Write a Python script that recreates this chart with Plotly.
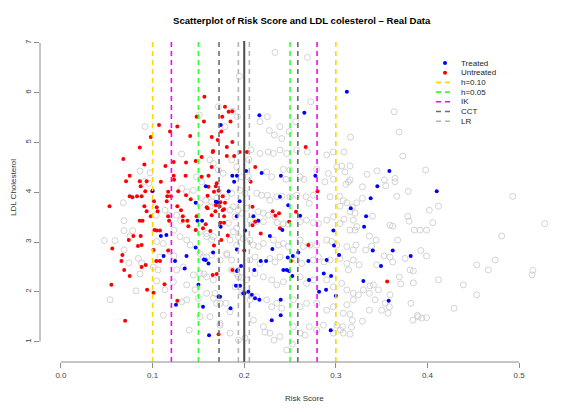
import plotly.graph_objects as go

# cutoff and bandwidth lines (risk score)
cutoff = 0.20
h010 = [0.10, 0.30]
h005 = [0.15, 0.25]
ik = [0.1205, 0.2795]
cct = [0.1725, 0.2585]
lr = [0.1936, 0.2056]

# full sample (grey open circles): (risk score, LDL)
all_pts = [
    (0.369, 5.21), (0.316, 5.11), (0.309, 4.81), (0.373, 4.73), (0.3064, 4.53), (0.3155, 4.53), (0.310, 4.41),
    (0.334, 4.36), (0.345, 4.43), (0.3646, 4.28), (0.3646, 4.21), (0.353, 4.25), (0.398, 4.45), (0.3137, 4.21),
    (0.311, 4.16), (0.329, 4.11), (0.3545, 4.13), (0.379, 4.02), (0.3665, 3.92), (0.493, 3.92), (0.304, 3.92),
    (0.308, 3.83), (0.312, 3.79), (0.3046, 3.72), (0.329, 3.88), (0.3228, 3.79), (0.318, 3.70), (0.3155, 3.61),
    (0.321, 3.58), (0.309, 3.46), (0.340, 3.52), (0.3785, 3.52), (0.380, 3.42), (0.402, 3.64), (0.412, 3.72),
    (0.4058, 3.39), (0.3857, 3.24), (0.392, 3.24), (0.399, 3.24), (0.359, 3.34), (0.362, 3.32), (0.3155, 3.24),
    (0.321, 3.24), (0.3366, 3.12), (0.344, 3.04), (0.339, 2.92), (0.322, 2.94), (0.3326, 2.84), (0.3676, 3.04),
    (0.3927, 2.83), (0.399, 2.72), (0.359, 2.70), (0.362, 2.60), (0.3526, 2.72), (0.3755, 2.67), (0.4538, 2.54),
    (0.4665, 2.44), (0.4738, 2.64), (0.3446, 2.54), (0.3253, 2.54), (0.3137, 2.44), (0.381, 2.44), (0.3846, 2.42),
    (0.3693, 2.30), (0.412, 2.24), (0.4392, 2.14), (0.4538, 1.94), (0.341, 2.14), (0.3373, 2.12), (0.3464, 2.04),
    (0.3708, 2.16), (0.3846, 2.18), (0.330, 2.04), (0.3366, 1.97), (0.3246, 1.94), (0.319, 1.84), (0.312, 1.74),
    (0.359, 1.94), (0.3537, 1.77), (0.3584, 1.70), (0.3428, 1.84), (0.382, 1.77), (0.429, 1.67), (0.3366, 1.63),
    (0.350, 1.63), (0.357, 1.57), (0.389, 1.53), (0.390, 1.50), (0.3938, 1.47), (0.399, 1.48), (0.384, 1.43),
    (0.3155, 1.55), (0.318, 1.43), (0.329, 1.41), (0.3075, 1.30), (0.317, 1.29),
    (0.528, 3.37), (0.481, 3.12), (0.515, 2.43), (0.5142, 2.34),
    (0.2336, 6.81), (0.269, 6.71), (0.1947, 6.33), (0.2726, 5.82), (0.3635, 5.62), (0.1874, 5.63), (0.1925, 5.52),
    (0.2252, 5.52), (0.2172, 5.42), (0.2562, 5.42), (0.239, 5.32), (0.2274, 5.24), (0.249, 5.22), (0.2329, 5.15),
    (0.241, 5.08), (0.0917, 5.32), (0.151, 5.55), (0.1717, 5.72), (0.179, 5.32),
    (0.301, 4.51), (0.239, 4.85), (0.2464, 4.78), (0.2573, 4.85), (0.2263, 4.81), (0.2318, 4.78), (0.2074, 4.85),
    (0.205, 4.66), (0.2172, 4.78), (0.269, 4.81), (0.290, 4.75), (0.2973, 4.81), (0.279, 4.46), (0.2918, 4.38),
    (0.2427, 4.46), (0.25, 4.45), (0.2245, 4.41), (0.230, 4.31), (0.197, 4.31), (0.2045, 4.31), (0.2456, 4.26),
    (0.261, 4.31), (0.2653, 4.26), (0.288, 4.21), (0.2973, 4.26), (0.3155, 4.25), (0.2937, 3.91), (0.2675, 3.91),
    (0.2754, 3.94), (0.271, 3.78), (0.25, 3.91), (0.2573, 3.94), (0.2355, 3.91), (0.241, 3.92), (0.2252, 3.94),
    (0.228, 3.84), (0.2136, 3.98), (0.219, 3.94), (0.1954, 4.04), (0.2009, 3.98), (0.1517, 3.78), (0.158, 3.84),
    (0.1627, 3.71), (0.188, 3.71), (0.1936, 3.64), (0.2027, 3.68), (0.2154, 3.61), (0.2209, 3.58), (0.2263, 3.54),
    (0.2336, 3.51), (0.2063, 3.44), (0.2136, 3.41), (0.2209, 3.41), (0.236, 3.39), (0.2427, 3.37), (0.2481, 3.36),
    (0.261, 3.41), (0.268, 3.44), (0.2754, 3.39), (0.281, 3.37), (0.290, 3.44), (0.2973, 3.51), (0.3046, 3.37),
    (0.319, 3.44), (0.3228, 3.31), (0.1517, 3.21), (0.159, 3.17), (0.1663, 3.11), (0.188, 3.21), (0.1936, 3.11),
    (0.199, 3.07), (0.2063, 3.04), (0.2100, 2.94), (0.2154, 2.91), (0.2209, 2.97), (0.2318, 3.04), (0.2372, 2.94),
    (0.2427, 2.97), (0.2481, 2.91), (0.261, 3.04), (0.2645, 2.91), (0.2718, 2.94), (0.279, 2.94), (0.290, 3.04),
    (0.2955, 3.01), (0.301, 2.94), (0.312, 2.91), (0.319, 2.84), (0.1517, 2.77), (0.159, 2.70), (0.1645, 2.74),
    (0.1736, 2.64), (0.181, 2.74), (0.1863, 2.64), (0.2063, 2.64), (0.2118, 2.70), (0.2172, 2.57), (0.2282, 2.67),
    (0.2336, 2.60), (0.239, 2.70), (0.2573, 2.64), (0.2627, 2.57), (0.2754, 2.64), (0.281, 2.70), (0.2871, 2.60),
    (0.2937, 2.64), (0.3046, 2.67), (0.312, 2.57), (0.319, 2.64), (0.1517, 2.37), (0.159, 2.30), (0.1663, 2.24),
    (0.1918, 2.37), (0.1973, 2.29), (0.2027, 2.24), (0.2118, 2.37), (0.2209, 2.30), (0.230, 2.24), (0.2355, 2.14),
    (0.2427, 2.20), (0.261, 2.30), (0.268, 2.17), (0.2754, 2.24), (0.290, 2.24), (0.2973, 2.10), (0.3064, 2.17),
    (0.312, 2.04), (0.319, 1.97), (0.159, 1.97), (0.1663, 1.87), (0.1736, 1.77), (0.199, 1.97), (0.2063, 1.84),
    (0.2136, 1.90), (0.2245, 1.84), (0.230, 1.70), (0.2355, 1.77), (0.241, 1.67), (0.2536, 1.84), (0.261, 1.70),
    (0.268, 1.77), (0.279, 1.77), (0.290, 1.63), (0.2973, 1.70), (0.308, 1.57), (0.1627, 1.50), (0.1736, 1.37),
    (0.1845, 1.17), (0.210, 1.43), (0.2209, 1.30), (0.228, 1.17), (0.2536, 1.30), (0.261, 1.17), (0.279, 1.23),
    (0.2973, 1.17), (0.1936, 1.03), (0.239, 1.10),
    (0.1317, 4.77), (0.0862, 4.43), (0.0972, 4.39), (0.091, 4.22), (0.096, 4.18), (0.068, 3.79), (0.0688, 3.43),
    (0.0688, 3.23), (0.0473, 3.03), (0.059, 3.03), (0.0753, 3.12), (0.0783, 3.23), (0.069, 2.84), (0.0844, 2.67),
    (0.0742, 2.58), (0.088, 2.58), (0.0862, 2.36), (0.1045, 2.22), (0.0535, 1.84), (0.0819, 2.02), (0.1117, 1.53),
    (0.1135, 3.64), (0.118, 3.54), (0.1037, 3.54), (0.1263, 3.54), (0.1307, 3.43), (0.1234, 3.24), (0.130, 3.11),
    (0.1045, 3.01), (0.1117, 2.97), (0.1372, 3.04), (0.141, 2.94), (0.119, 2.81), (0.1234, 2.72), (0.108, 2.70),
    (0.1008, 2.50), (0.106, 2.44), (0.1263, 2.44), (0.1335, 2.50), (0.1554, 2.70), (0.159, 3.11), (0.1645, 3.04),
    (0.1444, 2.34), (0.156, 2.36), (0.1226, 2.20), (0.1135, 2.04), (0.1463, 2.04), (0.1372, 2.14), (0.1372, 1.84),
    (0.1317, 1.80), (0.150, 1.87), (0.1517, 1.50), (0.168, 1.97), (0.170, 1.77), (0.180, 1.77), (0.1845, 1.60),
    (0.1663, 4.58), (0.1627, 4.65), (0.1717, 4.45), (0.177, 4.38), (0.1863, 4.65), (0.1918, 4.51), (0.148, 4.31),
    (0.1535, 4.21), (0.1372, 4.01), (0.1444, 4.04), (0.1317, 4.08), (0.1717, 4.01), (0.181, 3.91), (0.1863, 3.98),
    (0.1645, 3.81), (0.170, 3.88), (0.1845, 3.64), (0.190, 3.51), (0.1973, 3.58), (0.1827, 3.38), (0.1918, 3.28),
    (0.1845, 3.04), (0.1918, 2.94), (0.181, 2.77), (0.1863, 2.44), (0.1936, 2.30), (0.190, 2.10), (0.1973, 2.00),
    (0.140, 1.23), (0.1736, 1.33), (0.2009, 1.07), (0.2227, 1.19), (0.2325, 1.03), (0.2464, 0.83), (0.2525, 0.95),
    (0.2664, 1.13), (0.271, 1.30), (0.2864, 1.33), (0.301, 1.33), (0.308, 1.17), (0.3155, 1.15), (0.305, 1.23),
]

# untreated subsample (red)
untreated_pts = [
    (0.098, 5.11), (0.119, 5.22), (0.141, 5.13), (0.1645, 5.11), (0.175, 5.22), (0.187, 5.01), (0.086, 4.90),
    (0.068, 4.67), (0.1535, 4.71), (0.166, 4.83), (0.181, 4.73), (0.189, 4.73), (0.123, 4.61), (0.1365, 4.60),
    (0.147, 4.63), (0.091, 4.56), (0.114, 4.53), (0.075, 4.33), (0.071, 4.22), (0.086, 4.22), (0.0935, 4.22),
    (0.123, 4.33), (0.136, 4.33), (0.161, 4.33), (0.109, 4.21), (0.1234, 4.25), (0.170, 4.18), (0.161, 4.11),
    (0.169, 4.12), (0.087, 4.12), (0.092, 4.02), (0.0997, 4.02), (0.117, 4.01), (0.128, 4.02), (0.075, 3.92),
    (0.078, 3.90), (0.083, 3.92), (0.088, 3.92), (0.116, 3.92), (0.120, 3.92), (0.1365, 3.94), (0.1416, 3.86),
    (0.053, 3.72), (0.1015, 3.82), (0.091, 3.72), (0.1045, 3.70), (0.1154, 3.82), (0.127, 3.72), (0.159, 3.70),
    (0.173, 3.72), (0.0935, 3.62), (0.1055, 3.62), (0.131, 3.64), (0.1685, 3.62), (0.178, 3.66), (0.089, 3.43),
    (0.086, 3.43), (0.098, 3.52), (0.117, 3.52), (0.118, 3.43), (0.133, 3.52), (0.133, 3.43), (0.138, 3.43),
    (0.148, 3.52), (0.1645, 3.54), (0.178, 3.52), (0.102, 3.24), (0.1045, 3.23), (0.108, 3.23), (0.079, 3.12),
    (0.087, 3.12), (0.074, 3.04), (0.084, 2.92), (0.147, 3.24), (0.139, 3.32), (0.158, 3.36), (0.163, 3.22),
    (0.175, 3.04), (0.056, 2.87), (0.088, 2.94), (0.101, 2.84), (0.104, 2.62), (0.108, 2.62), (0.117, 2.83),
    (0.067, 2.74), (0.066, 2.62), (0.088, 2.50), (0.0925, 2.54), (0.069, 2.44), (0.075, 2.32), (0.055, 2.14),
    (0.094, 2.04), (0.101, 1.98), (0.113, 2.15), (0.1656, 2.34), (0.070, 1.42), (0.1565, 5.92), (0.179, 5.72),
    (0.183, 5.62), (0.148, 5.52), (0.156, 5.42), (0.176, 5.52), (0.185, 5.42), (0.107, 5.35), (0.127, 5.32),
    (0.127, 1.82), (0.170, 2.36), (0.172, 1.15), (0.187, 5.63), (0.171, 5.05), (0.181, 4.91), (0.1656, 4.81),
    (0.195, 4.81), (0.203, 4.81), (0.212, 4.51), (0.1535, 4.31), (0.1645, 4.51), (0.207, 4.21), (0.160, 3.93),
    (0.167, 4.01), (0.172, 4.03), (0.1765, 3.92), (0.160, 3.68), (0.169, 3.74), (0.174, 3.80), (0.1765, 3.64),
    (0.179, 3.79), (0.209, 3.71), (0.155, 3.28), (0.174, 3.39), (0.178, 3.39), (0.209, 3.34), (0.212, 3.41),
    (0.218, 3.17), (0.231, 3.62), (0.234, 3.53), (0.238, 3.58), (0.239, 3.28), (0.249, 3.41), (0.2565, 3.61),
    (0.267, 4.91), (0.280, 4.02), (0.270, 2.94), (0.251, 2.62), (0.200, 2.83), (0.167, 2.93), (0.182, 3.13),
    (0.187, 2.44), (0.356, 2.21),
]

# treated subsample (blue)
treated_pts = [
    (0.100, 4.03), (0.147, 3.79), (0.158, 4.12), (0.183, 4.02), (0.187, 4.33), (0.192, 4.33), (0.189, 4.21),
    (0.195, 3.82), (0.149, 3.43), (0.154, 3.43), (0.169, 3.81), (0.109, 3.12), (0.115, 3.14), (0.112, 2.72),
    (0.1245, 2.62), (0.137, 2.72), (0.135, 2.47), (0.147, 2.89), (0.156, 2.65), (0.161, 2.57), (0.166, 2.79),
    (0.192, 2.85), (0.192, 2.42), (0.1965, 2.52), (0.172, 1.90), (0.155, 1.70), (0.185, 1.67), (0.1255, 1.74),
    (0.191, 2.12), (0.1954, 2.12), (0.199, 1.97), (0.2165, 5.55), (0.2656, 5.60), (0.312, 6.02), (0.1743, 5.35),
    (0.1707, 3.80), (0.202, 4.43), (0.219, 4.39), (0.240, 4.33), (0.239, 3.91), (0.248, 3.74), (0.2776, 4.33),
    (0.261, 3.53), (0.1918, 3.52), (0.1743, 3.31), (0.2009, 3.23), (0.2154, 3.43), (0.210, 3.52), (0.228, 3.12),
    (0.2416, 3.24), (0.2973, 3.23), (0.298, 2.93), (0.3035, 2.74), (0.2307, 2.86), (0.2475, 2.69), (0.253, 2.72),
    (0.259, 2.79), (0.270, 2.62), (0.290, 2.64), (0.158, 2.64), (0.193, 2.44), (0.211, 2.44), (0.218, 2.62),
    (0.2238, 2.62), (0.2427, 2.44), (0.2464, 2.44), (0.249, 2.42), (0.2525, 2.32), (0.2707, 2.24), (0.2868, 2.37),
    (0.2948, 2.32), (0.1736, 1.90), (0.2001, 1.97), (0.2045, 2.00), (0.2082, 1.94), (0.2118, 1.87), (0.2165, 1.84),
    (0.230, 1.43), (0.2398, 1.53), (0.2398, 1.84), (0.2817, 2.00), (0.2893, 2.04), (0.300, 1.92), (0.2944, 1.23),
    (0.1616, 1.13), (0.3584, 4.43), (0.4101, 4.02), (0.3453, 4.12), (0.338, 3.88), (0.3163, 3.68), (0.333, 3.52),
    (0.3308, 3.31), (0.3403, 2.83), (0.3621, 2.83), (0.3817, 2.72), (0.3493, 2.52), (0.330, 2.22), (0.3577, 1.82),
    (0.150, 2.14),
]

FONT = "Liberation Sans, Arial, sans-serif"
OFF = 8  # page body margin in the browser
W, H = 585 - OFF, 413 - OFF
L, R, T, B = 40 - OFF, 21, 41 - OFF, 51


def px_x(p):
    return (p - OFF - L) / (W - L - R)


def px_y(p):
    return (H - B - (p - OFF)) / (H - T - B)


fig = go.Figure()
ax, ay = zip(*all_pts)
fig.add_trace(go.Scatter(x=ax, y=ay, mode="markers", showlegend=False,
                         marker=dict(symbol="circle-open", size=6, color="#c8c8c8", line=dict(width=0.8))))
ux, uy = zip(*untreated_pts)
fig.add_trace(go.Scatter(x=ux, y=uy, mode="markers", showlegend=False,
                         marker=dict(symbol="circle", size=4, color="#ff0000")))
tx, ty = zip(*treated_pts)
fig.add_trace(go.Scatter(x=tx, y=ty, mode="markers", showlegend=False,
                         marker=dict(symbol="circle", size=4, color="#0000ff")))

DASH = "5px,4px"
lines = [(h010, "#ffd700"), (h005, "#33ff33"), (ik, "#ff00ff"), (cct, "#6e6e6e"), (lr, "#b4b4b4")]
shapes = []
for vals, col in lines:
    for v in vals:
        shapes.append(dict(type="line", xref="x", yref="paper", x0=v, x1=v, y0=0, y1=1,
                           line=dict(color=col, width=1.6, dash=DASH)))
shapes.append(dict(type="line", xref="x", yref="paper", x0=cutoff, x1=cutoff, y0=0, y1=1,
                   line=dict(color="#4d4d4d", width=2)))
# axis lines only over the tick span, like base R
shapes.append(dict(type="line", xref="x", yref="paper", x0=0, x1=0.5, y0=0, y1=0,
                   line=dict(color="#8c8c8c", width=1)))
shapes.append(dict(type="line", xref="paper", yref="y", x0=0, x1=0, y0=1, y1=7,
                   line=dict(color="#8c8c8c", width=1)))

# legend (drawn by hand to get R's compact spacing)
annotations = []
leg = [("Treated", "pt", "#0000ff"), ("Untreated", "pt", "#ff0000"), ("h=0.10", "ln", "#ffd700"),
       ("h=0.05", "ln", "#33ff33"), ("IK", "ln", "#ff00ff"), ("CCT", "ln", "#6e6e6e"), ("LR", "ln", "#b4b4b4")]
for i, (lab, kind, col) in enumerate(leg):
    yy = px_y(63 + i * 9.7)
    if kind == "pt":
        shapes.append(dict(type="circle", xref="paper", yref="paper", xsizemode="pixel", ysizemode="pixel",
                           xanchor=px_x(445), yanchor=yy, x0=-2, x1=2, y0=-2, y1=2,
                           fillcolor=col, line=dict(width=0)))
    else:
        shapes.append(dict(type="line", xref="paper", yref="paper", x0=px_x(436), x1=px_x(450), y0=yy, y1=yy,
                           line=dict(color=col, width=1.6, dash=DASH)))
    annotations.append(dict(text=lab, xref="paper", yref="paper", x=px_x(459), y=yy, xanchor="left",
                            yanchor="middle", showarrow=False, font=dict(family=FONT, size=8, color="#222")))

annotations.append(dict(text="<b>Scatterplot of Risk Score and LDL colesterol \u2013 Real Data</b>",
                        xref="paper", yref="paper", x=0.5, y=px_y(20), xanchor="center", yanchor="middle",
                        showarrow=False, font=dict(family=FONT, size=9.6, color="#000")))
annotations.append(dict(text="Risk Score", xref="paper", yref="paper", x=px_x(304), y=px_y(398),
                        xanchor="center", yanchor="middle", showarrow=False,
                        font=dict(family=FONT, size=8, color="#333")))
annotations.append(dict(text="LDL Cholesterol", xref="paper", yref="paper", x=px_x(13), y=px_y(188),
                        xanchor="center", yanchor="middle", textangle=-90, showarrow=False,
                        font=dict(family=FONT, size=8, color="#333")))

fig.update_layout(
    width=W, height=H,
    margin=dict(l=L, r=R, t=T, b=B, pad=0),
    plot_bgcolor="white", paper_bgcolor="white",
    shapes=shapes, annotations=annotations, showlegend=False,
    font=dict(family=FONT, size=8, color="#444"),
)
fig.update_xaxes(range=[-0.0229, 0.549], tick0=0, dtick=0.1, tickformat=".1f", ticks="outside",
                 ticklen=5, tickcolor="#8c8c8c", showgrid=False, zeroline=False, showline=False,
                 tickfont=dict(family=FONT, size=8, color="#444"))
fig.update_yaxes(range=[0.59, 7.04], tick0=1, dtick=1, ticks="outside", ticklen=5, tickangle=-90,
                 tickcolor="#8c8c8c", showgrid=False, zeroline=False, showline=False,
                 tickfont=dict(family=FONT, size=8, color="#444"))

fig.write_html("out.html")
